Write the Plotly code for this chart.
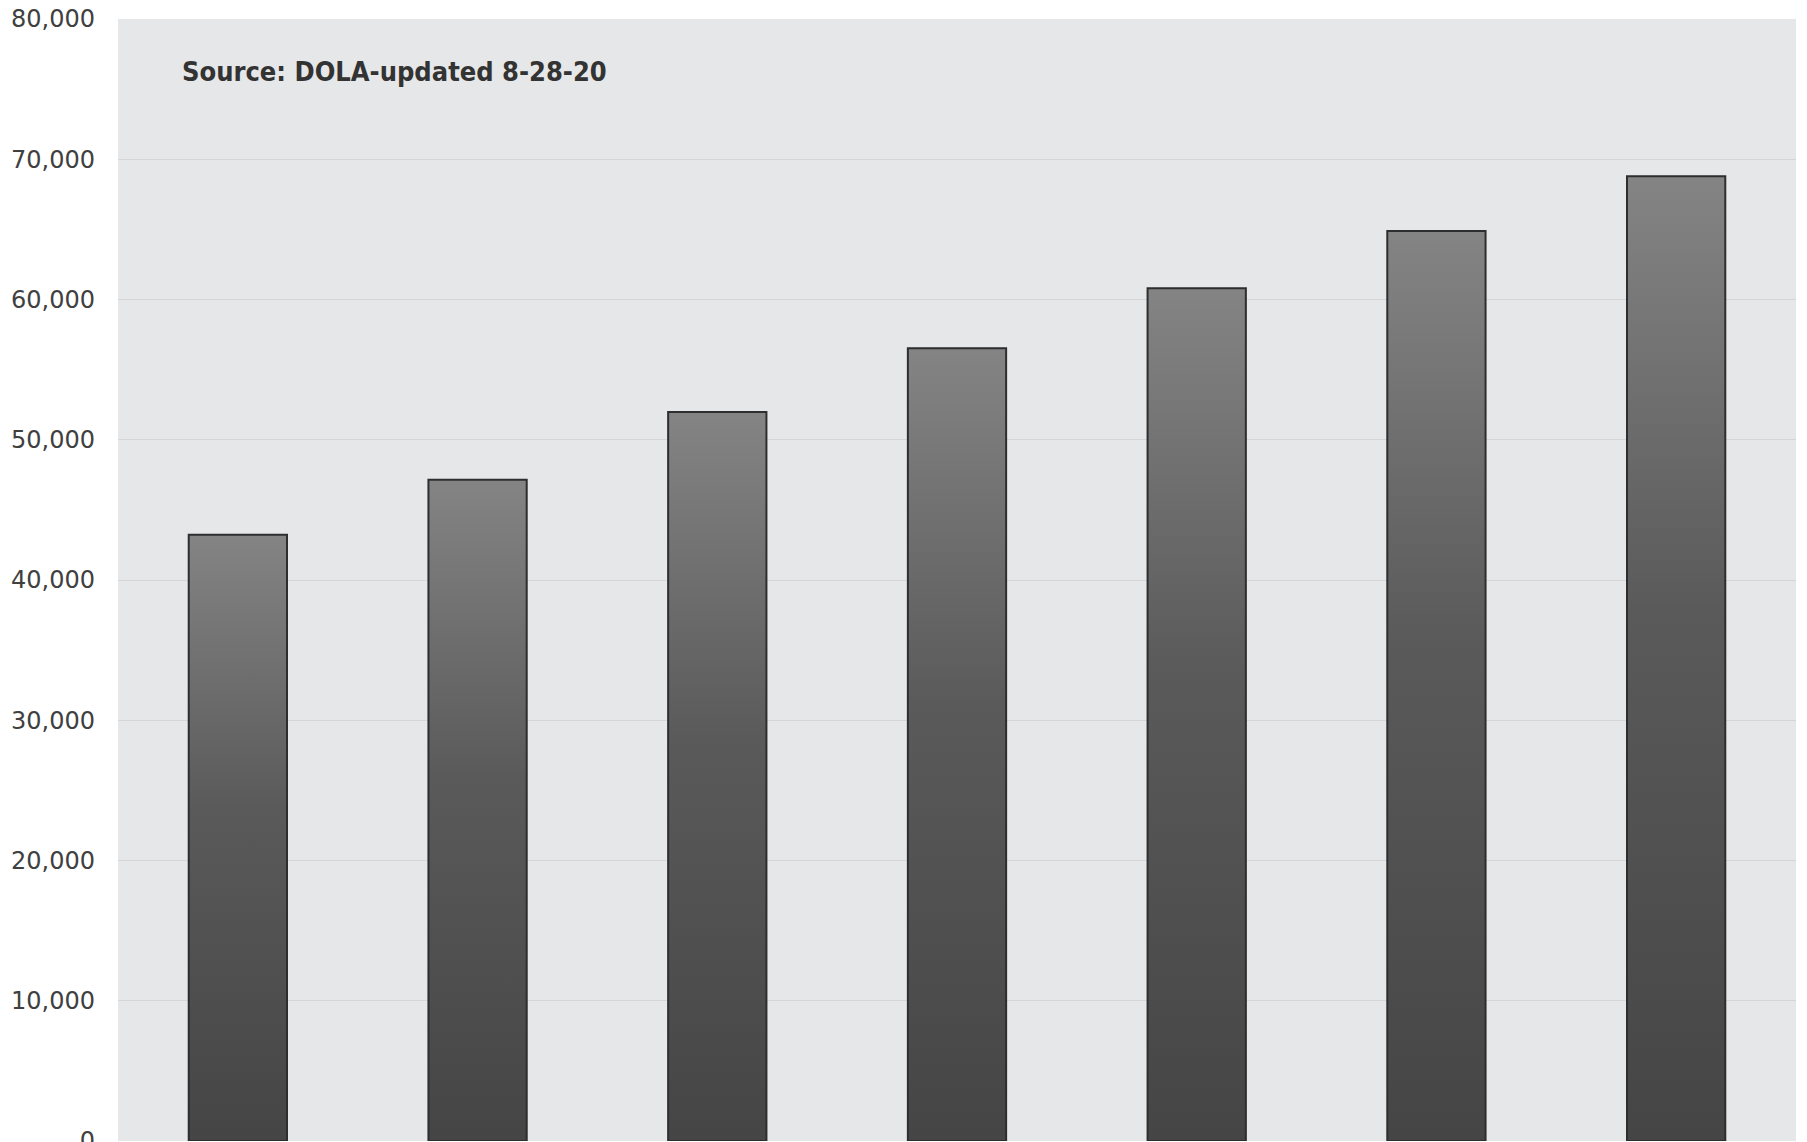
import plotly.graph_objects as go

# ── Data ────────────────────────────────────────────────────────────────
categories = ["2020", "2025", "2030", "2035", "2040", "2045", "2050"]
population = [43230, 47150, 51980, 56520, 60800, 64880, 68780]

y_ticks = [0, 10000, 20000, 30000, 40000, 50000, 60000, 70000, 80000]
source_note = "Source: DOLA-updated 8-28-20"

BAR_HALF = 0.205

fig = go.Figure()

# each bar drawn as a filled shape so it can carry a vertical gradient
for i, (cat, val) in enumerate(zip(categories, population)):
    fig.add_trace(go.Scatter(
        x=[i - BAR_HALF, i - BAR_HALF, i + BAR_HALF, i + BAR_HALF, i - BAR_HALF],
        y=[0, val, val, 0, 0],
        mode="lines", fill="toself",
        fillgradient=dict(type="vertical",
                          colorscale=[[0, "#454545"], [0.55, "#5a5a5a"], [1, "#848484"]]),
        line=dict(color="#2e2e2e", width=2),
        name=cat, showlegend=False, hoverinfo="skip",
    ))

fig.add_annotation(
    text=f"<b>{source_note}</b>", xref="paper", yref="paper",
    x=0.037, y=0.953, xanchor="left", yanchor="middle", showarrow=False,
    font=dict(family="DejaVu Sans Condensed, DejaVu Sans", size=27, color="#333333"),
)

# page body adds an 8px offset, so the figure is sized to land the plot
# area where the original sits
fig.update_layout(
    width=1799, height=1134,
    paper_bgcolor="white",
    plot_bgcolor="#e6e7e8",
    margin=dict(l=110, r=11, t=11, b=1, autoexpand=False),
    font=dict(family="DejaVu Sans", size=24, color="#404040"),
)
fig.update_xaxes(range=[-0.5, len(categories) - 0.5], showticklabels=False,
                 showgrid=False, zeroline=False, showline=False, automargin=False)
fig.update_yaxes(range=[0, 80000], tickvals=y_ticks, tickformat=",d",
                 showgrid=True, gridcolor="#d6d6d6", gridwidth=1,
                 zeroline=False, showline=False, ticklabelstandoff=22,
                 ticklabeloverflow="allow", automargin=False)

fig.write_html("out.html")
